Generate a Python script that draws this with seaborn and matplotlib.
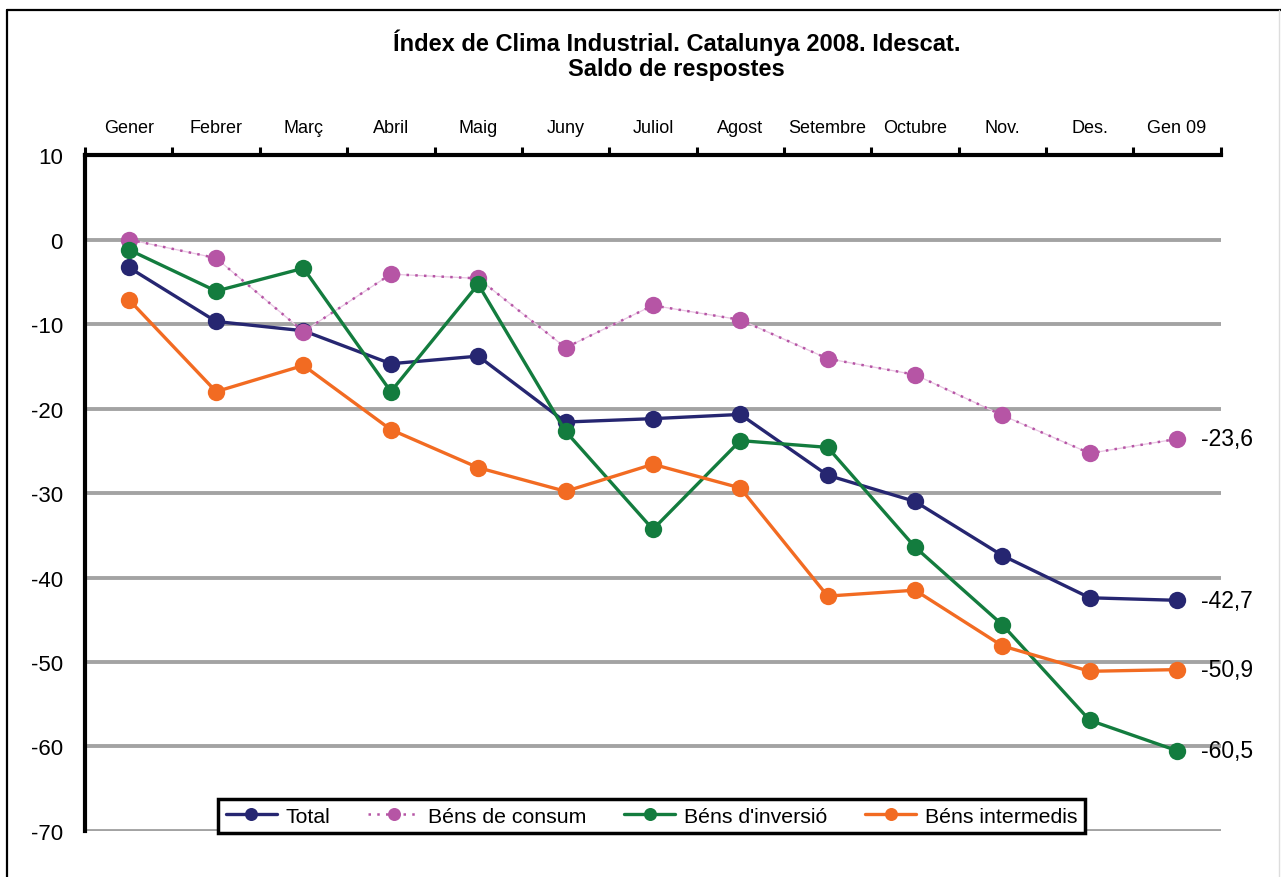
import pandas as pd
import numpy as np
import matplotlib.pyplot as plt
import seaborn as sns
from matplotlib.lines import Line2D

mesos = ["Gener", "Febrer", "Març", "Abril", "Maig", "Juny", "Juliol", "Agost",
         "Setembre", "Octubre", "Nov.", "Des.", "Gen 09"]
total = [-3.3, -9.7, -10.8, -14.7, -13.8, -21.6, -21.2, -20.7, -27.9, -31.0, -37.4, -42.4, -42.7]
consum = [0.0, -2.2, -10.9, -4.1, -4.6, -12.8, -7.8, -9.5, -14.1, -16.0, -20.8, -25.3, -23.6]
inversio = [-1.2, -6.1, -3.4, -18.0, -5.3, -22.7, -34.3, -23.8, -24.6, -36.4, -45.6, -56.9, -60.5]
intermedis = [-7.1, -18.0, -14.9, -22.5, -27.0, -29.8, -26.6, -29.4, -42.2, -41.5, -48.1, -51.1, -50.9]

series = [
    ("Total", total, "#262671", "-", 2.4),
    ("Béns de consum", consum, "#b655a5", (0, (1, 2.5)), 1.8),
    ("Béns d'inversió", inversio, "#137c3e", "-", 2.4),
    ("Béns intermedis", intermedis, "#f26b22", "-", 2.4),
]

sns.set_style("white")
plt.rcParams['font.family'] = ['Liberation Sans', 'DejaVu Sans']
plt.rcParams['text.color'] = 'black'
plt.rcParams['xtick.color'] = 'black'
plt.rcParams['ytick.color'] = 'black'

fig = plt.figure(figsize=(12.81, 8.78), dpi=100)
ax = fig.add_axes([0.0664, 0.0524, 0.8866, 0.7699])

x = np.arange(len(mesos))
# thin light line under the dotted consum series
ax.plot(x, consum, color="#e9c6e3", lw=0.9, zorder=1.5)
for name, vals, col, ls, lw in series:
    sns.lineplot(x=x, y=vals, ax=ax, color=col, linestyle=ls, linewidth=lw,
                 marker="o", markersize=12.5, markeredgewidth=0,
                 markerfacecolor=col, label=name, sort=False, zorder=2)
    ax.text(len(mesos) - 1 + 0.27, vals[-1], f"{vals[-1]:.1f}".replace(".", ","),
            fontsize=16.5, va="center", ha="left", clip_on=False)

ax.set_xlim(-0.5, len(mesos) - 0.5)
ax.set_ylim(-70, 10)
ax.set_yticks(np.arange(-70, 11, 10))
ax.set_yticklabels([str(v) for v in range(-70, 11, 10)], fontsize=16)

# grid lines
for v in range(-70, 1, 10):
    ax.axhline(v, color="#a3a3a3", lw=2.8, zorder=0.5)

# month labels on top
ax.xaxis.tick_top()
ax.set_xticks(x)
ax.set_xticklabels(mesos, fontsize=13)
ax.set_xticks(np.arange(-0.5, len(mesos)), minor=True)
ax.tick_params(axis="x", which="major", length=0, pad=14)
ax.tick_params(axis="x", which="minor", length=6, width=2.2, direction="out", color="black")
ax.tick_params(axis="y", length=6, width=2.2, direction="out", color="black", pad=10)
ax.set_xlabel("")
ax.set_ylabel("")

for s in ["right", "bottom"]:
    ax.spines[s].set_visible(False)
for s in ["left", "top"]:
    ax.spines[s].set_linewidth(3)
    ax.spines[s].set_color("black")

leg = ax.legend(loc="center", bbox_to_anchor=(0.4987, 0.022), ncol=4, fontsize=15.3,
                frameon=True, fancybox=False, handlelength=2.4, columnspacing=1.8,
                borderpad=0.35, handletextpad=0.4, markerscale=0.75)
leg.get_frame().set_edgecolor("black")
leg.get_frame().set_linewidth(2.5)
leg.get_frame().set_alpha(1)
leg.set_zorder(5)

fig.text(0.528, 0.937, "Índex de Clima Industrial. Catalunya 2008. Idescat.\nSaldo de respostes",
         ha="center", va="center", fontsize=17, fontweight="bold", linespacing=1.1)

# outer frame: black on left and top, faint on the right
fig.add_artist(Line2D([0.0055, 0.0055], [0, 0.9875], transform=fig.transFigure, color="black", lw=1.6))
fig.add_artist(Line2D([0.0055, 1.0], [0.9875, 0.9875], transform=fig.transFigure, color="black", lw=1.6))
fig.add_artist(Line2D([0.9985, 0.9985], [0, 0.9875], transform=fig.transFigure, color="#dddddd", lw=1.0))

plt.savefig("out.png", dpi=100)
